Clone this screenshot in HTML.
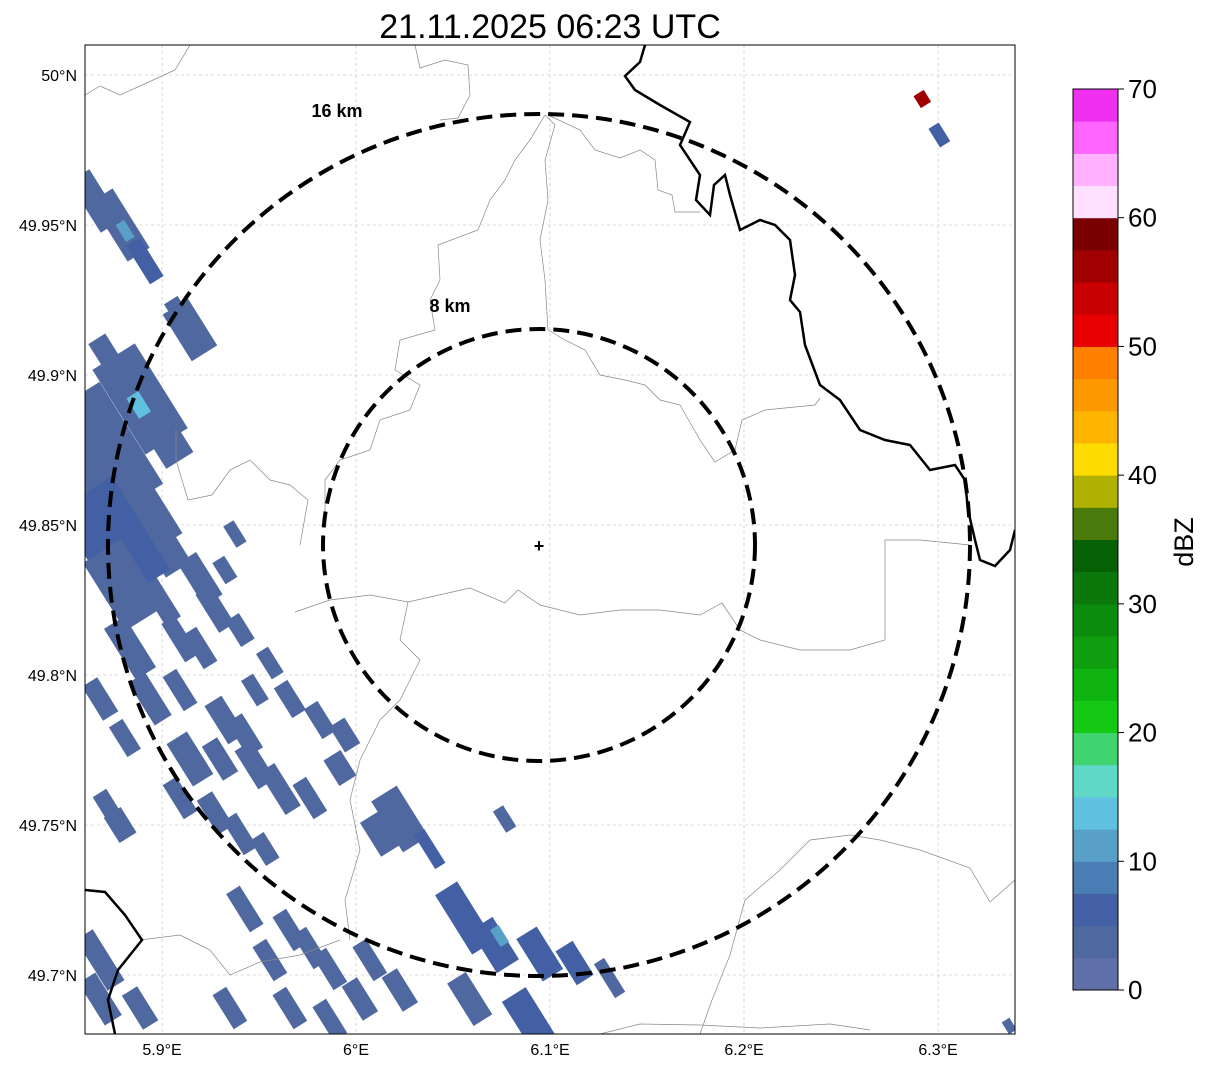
<!DOCTYPE html>
<html><head><meta charset="utf-8"><style>
html,body{margin:0;padding:0;background:#fff;width:1207px;height:1069px;overflow:hidden;font-family:"Liberation Sans",sans-serif}
</style></head><body>
<svg id="chart" width="1207" height="1069" xmlns="http://www.w3.org/2000/svg" style="font-family:'Liberation Sans',sans-serif">
<text x="550" y="38" text-anchor="middle" font-size="34">21.11.2025 06:23 UTC</text>
<defs><clipPath id="pc"><rect x="85" y="45" width="930" height="989"/></clipPath></defs>
<g id="grid"></g>
<g id="echoes" clip-path="url(#pc)"></g>
<g id="borders" clip-path="url(#pc)" fill="none">
<path stroke="#888" stroke-width="0.7" d="M85,95 L100,86 L120,95 L140,86 L175,70 L190,45"/>
<path stroke="#888" stroke-width="0.7" d="M415,45 L420,68 L445,60 L468,65 L470,95 L458,118 L440,120"/>
<path stroke="#888" stroke-width="0.7" d="M545,115 L530,140 L515,160 L505,180 L490,200 L478,230 L438,245 L440,280 L430,300 L435,330 L400,340 L395,370 L420,385 L410,410 L380,420 L370,450 L340,460 L325,480 L325,520"/>
<path stroke="#888" stroke-width="0.7" d="M545,115 L555,125 L545,160 L548,200 L540,240 L545,280 L548,330"/>
<path stroke="#888" stroke-width="0.7" d="M548,115 L580,130 L595,150 L620,158 L640,150 L655,160 L658,190 L672,195 L675,212 L700,212"/>
<path stroke="#888" stroke-width="0.7" d="M548,330 L565,340 L585,350 L600,375 L625,380 L645,385 L660,400 L680,405 L700,440 L715,462 L735,450 L742,420 L765,410 L815,405 L820,398"/>
<path stroke="#888" stroke-width="0.7" d="M295,612 L330,600 L370,595 L408,602 L470,588 L505,603 L518,590 L540,605 L580,615 L620,610 L660,610 L700,615 L722,603 L740,630 L760,640 L800,650 L850,650 L885,640 L885,540 L920,540 L970,545"/>
<path stroke="#888" stroke-width="0.7" d="M300,545 L308,500 L290,485 L270,480 L250,460 L230,470 L212,495 L188,500 L176,460 L176,430"/>
<path stroke="#888" stroke-width="0.7" d="M408,602 L400,640 L420,660 L400,700 L380,720 L360,760 L350,800 L360,850 L345,900 L350,940"/>
<path stroke="#888" stroke-width="0.7" d="M700,1034 L712,1000 L730,955 L745,900 L780,870 L810,840 L850,835 L880,840 L920,850 L970,868 L990,902 L1015,880"/>
<path stroke="#888" stroke-width="0.7" d="M140,940 L180,935 L210,950 L230,975 L260,962 L300,955 L340,940"/>
<path stroke="#888" stroke-width="0.7" d="M600,1034 L640,1024 L700,1025 L760,1028 L830,1024 L870,1030"/>
<path stroke="#000" stroke-width="2.5" d="M645,45 L640,62 L625,76 L635,90 L660,105 L690,122 L680,145 L700,175 L696,200 L710,215 L714,185 L725,175 L730,195 L740,230 L760,220 L775,225 L790,240 L795,275 L790,300 L800,312 L805,345 L820,385 L840,400 L860,430 L885,440 L910,445 L930,470 L955,465 L965,480 L968,510 L975,540 L980,560 L995,566 L1010,550 L1015,530"/>
<path stroke="#000" stroke-width="2.5" d="M85,890 L105,892 L125,915 L142,940 L118,970 L108,1000 L115,1034"/>
</g>
<g id="rings" fill="none" stroke="#000" stroke-width="4" stroke-dasharray="16,8">
<ellipse cx="539" cy="545" rx="216" ry="216"/>
<ellipse cx="539" cy="545" rx="431" ry="431"/>
</g>
<text x="337" y="117" text-anchor="middle" font-size="18" font-weight="bold">16 km</text>
<text x="450" y="312" text-anchor="middle" font-size="18" font-weight="bold">8 km</text>
<text x="539" y="552" text-anchor="middle" font-size="18" font-weight="bold">+</text>
<rect x="85" y="45" width="930" height="989" fill="none" stroke="#000" stroke-width="1"/>
<g id="axes" font-size="16"></g>
<g id="cbar"></g>
<text transform="translate(1193,542) rotate(-90)" text-anchor="middle" font-size="27">dBZ</text>
</svg>
<script>
const lonTicks=[5.9,6.0,6.1,6.2,6.3];
const lonLabels=["5.9°E","6°E","6.1°E","6.2°E","6.3°E"];
const latTicks=[50,49.95,49.9,49.85,49.8,49.75,49.7];
const latLabels=["50°N","49.95°N","49.9°N","49.85°N","49.8°N","49.75°N","49.7°N"];
const cbTicks=[0,10,20,30,40,50,60,70];
const cbColors=["#6070a8","#5068a0","#4460a4","#4a7db4","#58a0c8","#60c0e0","#60d8c8","#40d470","#14c814","#10b410","#0e9e0e","#0c8c0c","#0a780a","#066006","#4a7a0a","#b0b000","#ffdc00","#ffb400","#ff9900","#ff8000","#e60000","#c80000","#a00000","#7a0000","#ffe0ff","#ffb0ff","#ff66ff","#f030f0"];
const cellLon=[5.8655,5.8784,5.8912,5.9144,5.9093,5.8732,5.8887,5.8681,5.8681,5.8835,5.8990,5.9196,5.9376,5.9324,5.9273,5.9402,5.8990,5.9093,5.9196,5.8835,5.8938,5.9093,5.9556,5.9479,5.9659,5.9324,5.9427,5.9814,5.9942,5.8681,5.8809,5.9144,5.9299,5.9479,5.9608,5.9762,5.9917,5.8732,5.8784,5.9093,5.9273,5.9402,5.9530,6.0226,6.0123,6.0380,6.0766,5.9427,5.9659,5.9762,5.9556,5.9865,6.0071,6.0020,6.0226,6.0560,6.0715,6.0947,6.1127,6.1307,5.8681,5.8681,5.8887,5.9350,5.9659,5.9865,6.0586,6.0895,6.3367,6.2919,6.3007,5.8700,5.8750,5.8800,5.9010,5.8810,5.8880,6.0740];
const cellLat=[49.958,49.950,49.938,49.915,49.920,49.905,49.892,49.885,49.865,49.858,49.845,49.832,49.847,49.835,49.822,49.815,49.825,49.812,49.809,49.809,49.792,49.795,49.804,49.795,49.792,49.785,49.780,49.785,49.780,49.792,49.779,49.772,49.772,49.770,49.762,49.759,49.769,49.755,49.750,49.759,49.754,49.747,49.742,49.752,49.747,49.742,49.752,49.722,49.715,49.709,49.705,49.702,49.705,49.692,49.695,49.719,49.710,49.707,49.704,49.699,49.705,49.692,49.689,49.689,49.689,49.685,49.692,49.685,49.683,49.992,49.980,49.875,49.845,49.830,49.880,49.948,49.890,49.713];
const cellDbz=[3,4,5,3,3,3,4,4,4,4,3,3,3,3,3,3,3,3,3,3,3,3,3,3,3,3,3,3,3,3,3,3,3,3,3,3,3,3,3,3,3,3,3,4,3,6,3,3,3,3,3,3,3,3,3,6,6,6,6,3,3,3,3,3,3,3,3,6,3,55,6,3,6,3,3,12,13,12];
const cellSize=[[60,24],[70,26],[45,16],[55,30],[35,16],[50,20],[100,50],[60,32],[90,45],[110,55],[70,30],[50,22],[25,12],[25,14],[45,18],[30,16],[50,18],[45,16],[40,16],[60,24],[50,20],[40,16],[30,14],[30,14],[35,16],[45,20],[40,18],[35,16],[30,18],[40,18],[35,16],[50,24],[40,18],[45,20],[50,18],[40,16],[30,20],[40,16],[30,20],[40,16],[40,18],[40,16],[30,16],[60,30],[40,22],[40,12],[25,12],[45,16],[40,16],[40,16],[40,16],[40,16],[40,16],[40,18],[40,18],[70,26],[50,26],[50,24],[40,20],[40,12],[60,20],[50,20],[40,18],[40,16],[40,16],[40,16],[50,22],[60,28],[14,9],[14,12],[22,12],[120,65],[110,65],[80,45],[60,32],[20,10],[24,14],[20,10]];
const NS="http://www.w3.org/2000/svg";
const xS=lon=>162+(lon-5.9)*1940;
const yS=lat=>75+(50-lat)*3000;
const cbY=v=>990-v*(901/70);
function colorFor(d){return cbColors[Math.max(0,Math.min(27,Math.floor(d/2.5)))];}
function mk(t,a){const e=document.createElementNS(NS,t);for(const k in a)e.setAttribute(k,a[k]);return e;}
const grid=document.getElementById('grid'),axes=document.getElementById('axes');
lonTicks.forEach((v,i)=>{const x=xS(v);
 const l=mk('line',{x1:x,x2:x,y1:45,y2:1034,stroke:'#bbb','stroke-width':0.6,'stroke-dasharray':'3,3'});
 
 grid.appendChild(l);
 const t=mk('text',{x:x,y:1055,'text-anchor':'middle'});t.textContent=lonLabels[i];
 
 axes.appendChild(t);});
latTicks.forEach((v,i)=>{const y=yS(v);
 const l=mk('line',{x1:85,x2:1015,y1:y,y2:y,stroke:'#bbb','stroke-width':0.6,'stroke-dasharray':'3,3'});
 
 grid.appendChild(l);
 const t=mk('text',{x:77,y:y+6,'text-anchor':'end'});t.textContent=latLabels[i];
 
 axes.appendChild(t);});
const eg=document.getElementById('echoes');
cellLon.forEach((lon,i)=>{const x=xS(lon),y=yS(cellLat[i]),L=cellSize[i][0],W=cellSize[i][1];
 const r=mk('rect',{x:-L/2,y:-W/2,width:L,height:W,fill:colorFor(cellDbz[i]),transform:`translate(${x},${y}) rotate(58)`});
 
 eg.appendChild(r);});
const cb=document.getElementById('cbar');
cbColors.forEach((c,i)=>{const y1=cbY((i+1)*2.5),y0=cbY(i*2.5);
 const r=mk('rect',{x:1073,y:y1,width:45,height:y0-y1+0.5,fill:c});
 
 cb.appendChild(r);});
const fr=mk('rect',{x:1073,y:89,width:45,height:901,fill:'none',stroke:'#000','stroke-width':1});

cb.appendChild(fr);
cbTicks.forEach(v=>{const y=cbY(v);
 cb.appendChild(mk('line',{x1:1118,x2:1124,y1:y,y2:y,stroke:'#000'}));
 const t=mk('text',{x:1128,y:y+9,'font-size':26});t.textContent=v;
 
 cb.appendChild(t);});
</script>
</body></html>
